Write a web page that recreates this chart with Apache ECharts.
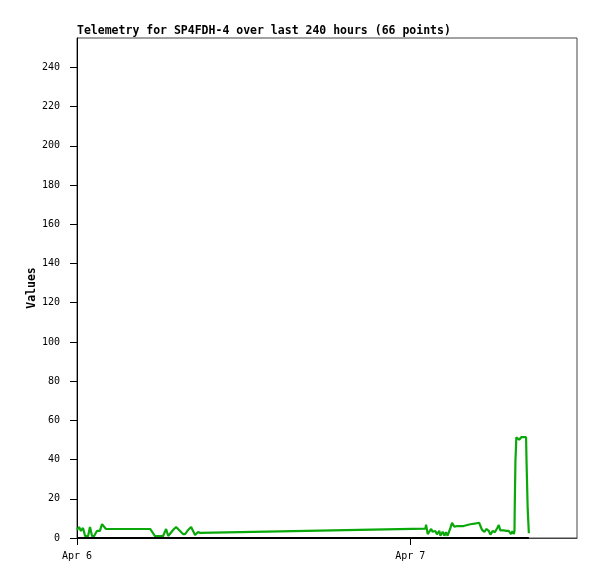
<!DOCTYPE html>
<html>
<head>
<meta charset="utf-8">
<script src="https://cdn.jsdelivr.net/npm/echarts@6/dist/echarts.min.js"></script>
<style>html,body{margin:0;padding:0;background:#fff;}#c{width:597px;height:579px;}</style>
</head>
<body>
<div id="c"></div>
<script>
var titleText = "Telemetry for SP4FDH-4 over last 240 hours (66 points)";
var yAxisName = "Values";
var yTicks = [0, 20, 40, 60, 80, 100, 120, 140, 160, 180, 200, 220, 240];
var xTickDates = ["2024-04-06 00:00", "2024-04-07 00:00"];
var xRange = ["2024-04-06 00:00", "2024-04-07 12:00"];
var yRange = [0, 255];

var times = [
 "2024-04-06 00:00","2024-04-06 00:09","2024-04-06 00:17","2024-04-06 00:26","2024-04-06 00:35",
 "2024-04-06 00:48","2024-04-06 00:56","2024-04-06 01:05","2024-04-06 01:14","2024-04-06 01:26",
 "2024-04-06 01:39","2024-04-06 01:48","2024-04-06 02:05","2024-04-06 05:16","2024-04-06 05:37",
 "2024-04-06 06:12","2024-04-06 06:25","2024-04-06 06:34","2024-04-06 06:55","2024-04-06 07:08",
 "2024-04-06 07:38","2024-04-06 07:47","2024-04-06 08:00","2024-04-06 08:13","2024-04-06 08:30",
 "2024-04-06 08:43","2024-04-06 08:52","2024-04-07 01:05","2024-04-07 01:08","2024-04-07 01:15",
 "2024-04-07 01:30","2024-04-07 01:36","2024-04-07 01:48","2024-04-07 01:55","2024-04-07 02:05",
 "2024-04-07 02:10","2024-04-07 02:20","2024-04-07 02:27","2024-04-07 02:34","2024-04-07 02:41",
 "2024-04-07 02:53","2024-04-07 03:00","2024-04-07 03:10","2024-04-07 03:25","2024-04-07 03:50",
 "2024-04-07 03:54","2024-04-07 04:19","2024-04-07 04:45","2024-04-07 04:57","2024-04-07 05:10",
 "2024-04-07 05:20","2024-04-07 05:29","2024-04-07 05:39","2024-04-07 05:46","2024-04-07 05:56",
 "2024-04-07 06:05","2024-04-07 06:15","2024-04-07 06:22","2024-04-07 06:29","2024-04-07 06:43",
 "2024-04-07 06:55","2024-04-07 07:05","2024-04-07 07:15","2024-04-07 07:21","2024-04-07 07:27",
 "2024-04-07 07:30","2024-04-07 07:31","2024-04-07 07:34","2024-04-07 07:38","2024-04-07 07:50",
 "2024-04-07 07:59","2024-04-07 08:20","2024-04-07 08:22","2024-04-07 08:27","2024-04-07 08:32"
];
var values = [
 4.1,5.6,3.6,5.1,1.0,
 1.0,5.6,1.0,1.0,3.6,
 3.6,7.1,4.6,4.6,1.0,
 1.0,4.6,1.0,4.1,5.6,
 2.0,2.0,4.1,5.6,1.5,
 3.1,2.6,4.8,6.8,2.0,
 4.6,3.2,3.6,1.9,3.7,
 1.2,3.2,1.2,2.9,1.2,
 5.0,7.7,5.8,6.1,6.1,
 6.8,7.0,7.5,7.8,4.1,
 3.1,4.6,3.6,1.7,3.6,
 2.9,5.0,6.6,3.9,3.9,
 3.6,3.6,2.0,3.4,2.0,
 3.7,15.5,39.0,51.4,50.1,
 51.4,51.4,39.0,14.7,2.4
];
var zeroTimes = ["2024-04-06 00:00", "2024-04-07 08:32"];
var zeroValues = [0, 0];

function ts(s) {
  var p = s.split(/[- :]/).map(Number);
  return new Date(p[0], p[1] - 1, p[2], p[3], p[4]).getTime();
}
var months = ["Jan","Feb","Mar","Apr","May","Jun","Jul","Aug","Sep","Oct","Nov","Dec"];
var mono = "DejaVu Sans Mono";

var chart = echarts.init(document.getElementById('c'), null, {renderer: 'canvas'});
chart.setOption({
  backgroundColor: '#ffffff',
  animation: false,
  title: {
    text: titleText, left: 77, top: 25, padding: 0,
    textStyle: {fontFamily: mono, fontSize: 11.5, fontWeight: 'bold', color: '#000'}
  },
  grid: {left: 77, top: 38, right: 20, bottom: 41, show: true, borderColor: '#444', borderWidth: 1, backgroundColor: 'transparent'},
  xAxis: {
    type: 'value',
    min: ts(xRange[0]), max: ts(xRange[1]),
    axisLine: {show: true, lineStyle: {color: '#444', width: 1}},
    axisTick: {show: true, customValues: xTickDates.map(ts), length: 7, lineStyle: {color: '#000'}},
    axisLabel: {
      customValues: xTickDates.map(ts), margin: 13,
      fontFamily: mono, fontSize: 10, color: '#000',
      formatter: function (v) { var d = new Date(v); return months[d.getMonth()] + ' ' + d.getDate(); }
    },
    splitLine: {show: false}
  },
  yAxis: {
    type: 'value', min: yRange[0], max: yRange[1],
    name: yAxisName, nameLocation: 'middle', nameGap: 39, nameMoveOverlap: false,
    nameTextStyle: {fontFamily: mono, fontSize: 11.5, fontWeight: 'bold', color: '#000'},
    axisLine: {show: true, lineStyle: {color: '#000', width: 1}},
    axisTick: {show: true, customValues: yTicks, length: 7, lineStyle: {color: '#000'}},
    axisLabel: {customValues: yTicks, margin: 17, fontFamily: mono, fontSize: 10, color: '#000'},
    splitLine: {show: false}
  },
  series: [
    {
      type: 'line', data: times.map(function (t, i) { return [ts(t), values[i]]; }),
      showSymbol: false, symbol: 'none',
      lineStyle: {color: '#0aa80a', width: 2.2}
    },
    {
      type: 'line', data: zeroTimes.map(function (t, i) { return [ts(t), zeroValues[i]]; }),
      showSymbol: false, symbol: 'none',
      lineStyle: {color: '#000', width: 2.2}
    }
  ]
});
</script>
</body>
</html>
